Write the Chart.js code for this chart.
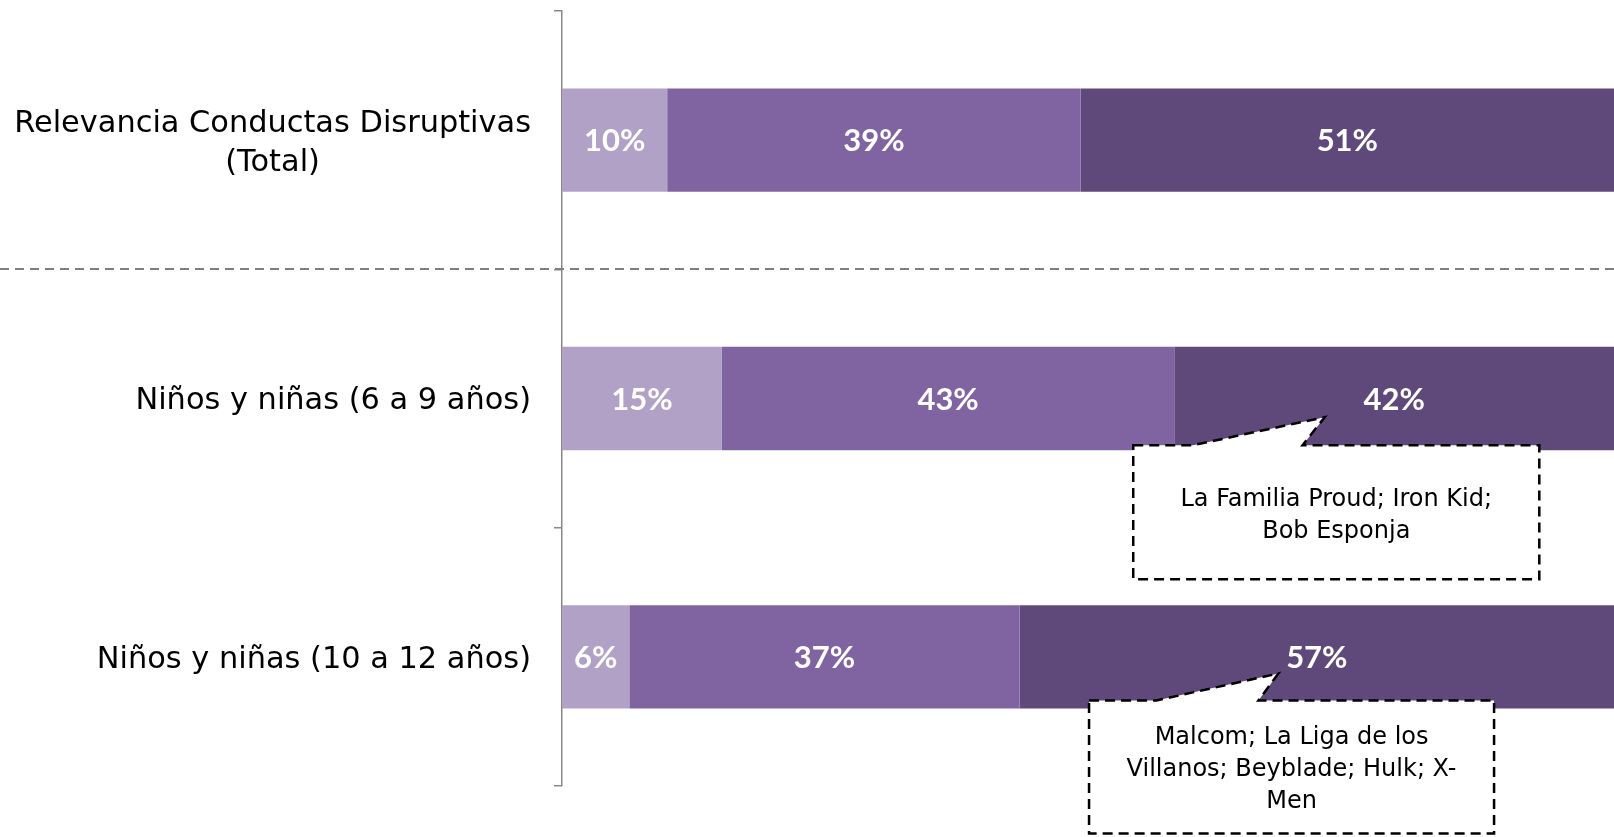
<!DOCTYPE html>
<html>
<head>
<meta charset="utf-8">
<script src="https://cdn.jsdelivr.net/npm/chart.js@4.4.1/dist/chart.umd.min.js"></script>
<style>
  html, body { margin: 0; padding: 0; background: #ffffff; }
  #wrap { width: 1614px; height: 837px; position: relative; }
</style>
</head>
<body>
<div id="wrap"><canvas id="c"></canvas></div>
<script>
// ---- Data ----
const categories = [
  ["Relevancia Conductas Disruptivas", "(Total)"],
  ["Niños y niñas (6 a 9 años)"],
  ["Niños y niñas (10 a 12 años)"]
];
const seriesNames = ["Baja", "Media", "Alta"];
const lowValues  = [10.0, 15.2, 6.4];
const midValues  = [39.3, 43.0, 37.1];
const highValues = [50.7, 41.8, 56.5];
const calloutCategories = [1, 2];
const calloutTexts = [
  ["La Familia Proud; Iron Kid;", "Bob Esponja"],
  ["Malcom; La Liga de los", "Villanos; Beyblade; Hulk; X-", "Men"]
];

// ---- Styles ----
const colors = ["#B2A1C7", "#8064A2", "#5F497A"];
const LABEL_FONT = "30.4px 'DejaVu Sans', sans-serif";
const VALUE_FONT = "bold 31px Lato, 'Open Sans', sans-serif";
const NOTE_FONT = "24px 'DejaVu Sans', sans-serif";
// callout geometry in x-axis value units (percent) and pixel offsets from bar bottom
const calloutGeom = [
  { left: 54.3, right: 92.9, baseL: 60.0, baseR: 70.4, tip: 72.5, top: -5, height: 134, tipDy: -33, textDy: 4 },
  { left: 50.1, right: 88.6, baseL: 56.5, baseR: 66.2, tip: 68.1, top: -8, height: 133, tipDy: -35, textDy: 3 }
];

const valueLabels = {
  id: 'valueLabels',
  afterDatasetsDraw(chart) {
    const ctx = chart.ctx;
    ctx.save();
    ctx.font = VALUE_FONT;
    ctx.fillStyle = '#ffffff';
    ctx.textAlign = 'center';
    ctx.textBaseline = 'middle';
    chart.data.datasets.forEach((ds, di) => {
      const meta = chart.getDatasetMeta(di);
      meta.data.forEach((el, i) => {
        const p = el.getCenterPoint();
        ctx.fillText(Math.round(ds.data[i]) + '%', p.x, p.y + 1);
      });
    });
    ctx.restore();
  }
};

const extras = {
  id: 'extras',
  beforeDatasetsDraw(chart) {
    const ctx = chart.ctx;
    const y = chart.scales.y;
    const sep = (y.getPixelForValue(0) + y.getPixelForValue(1)) / 2;
    ctx.save();
    ctx.strokeStyle = '#7F7F7F';
    ctx.lineWidth = 2;
    ctx.setLineDash([9, 6]);
    ctx.beginPath();
    ctx.moveTo(0, Math.round(sep));
    ctx.lineTo(chart.width, Math.round(sep));
    ctx.stroke();
    ctx.restore();
  },
  afterDraw(chart) {
    const ctx = chart.ctx;
    const ys = chart.scales.y, xs = chart.scales.x;
    // category labels
    ctx.save();
    ctx.font = LABEL_FONT;
    ctx.fillStyle = '#000000';
    ctx.textBaseline = 'middle';
    ctx.textAlign = 'center';
    const rightEdge = chart.chartArea.left - 31;
    const lh = 39;
    categories.forEach((lines, i) => {
      const cy = ys.getPixelForValue(i) + 3;
      const w = Math.max(...lines.map(l => ctx.measureText(l).width));
      const cx = rightEdge - w / 2;
      lines.forEach((l, k) => {
        ctx.fillText(l, cx, cy + (k - (lines.length - 1) / 2) * lh);
      });
    });
    ctx.restore();

    // callouts
    const meta = chart.getDatasetMeta(2);
    calloutCategories.forEach((ci, n) => {
      const g = calloutGeom[n];
      const el = meta.data[ci];
      const barBottom = el.y + el.height / 2;
      const top = barBottom + g.top;
      const bottom = top + g.height;
      const L = xs.getPixelForValue(g.left), R = xs.getPixelForValue(g.right);
      const bL = xs.getPixelForValue(g.baseL), bR = xs.getPixelForValue(g.baseR);
      const tx = xs.getPixelForValue(g.tip), ty = barBottom + g.tipDy;
      ctx.save();
      ctx.beginPath();
      ctx.moveTo(L, top);
      ctx.lineTo(bL, top);
      ctx.lineTo(tx, ty);
      ctx.lineTo(bR, top);
      ctx.lineTo(R, top);
      ctx.lineTo(R, bottom);
      ctx.lineTo(L, bottom);
      ctx.closePath();
      ctx.fillStyle = '#ffffff';
      ctx.fill();
      ctx.strokeStyle = '#000000';
      ctx.lineWidth = 2.5;
      ctx.setLineDash([10, 6]);
      ctx.stroke();
      ctx.setLineDash([]);
      ctx.font = NOTE_FONT;
      ctx.fillStyle = '#000000';
      ctx.textAlign = 'center';
      ctx.textBaseline = 'middle';
      const lines = calloutTexts[n];
      const cx = (L + R) / 2, cy = (top + bottom) / 2 + g.textDy;
      lines.forEach((l, k) => {
        ctx.fillText(l, cx, cy + (k - (lines.length - 1) / 2) * 32);
      });
      ctx.restore();
    });
  }
};

new Chart(document.getElementById('c'), {
  type: 'bar',
  data: {
    labels: categories.map(c => c.join(' ')),
    datasets: [
      { label: seriesNames[0], data: lowValues, backgroundColor: colors[0] },
      { label: seriesNames[1], data: midValues, backgroundColor: colors[1] },
      { label: seriesNames[2], data: highValues, backgroundColor: colors[2] }
    ]
  },
  options: {
    indexAxis: 'y',
    responsive: true,
    maintainAspectRatio: false,
    animation: false,
    layout: { padding: { top: 11, bottom: 51, left: 0, right: 0 } },
    datasets: { bar: { categoryPercentage: 0.8, barPercentage: 0.5, borderWidth: 0 } },
    plugins: { legend: { display: false }, tooltip: { enabled: false } },
    scales: {
      x: { stacked: true, min: 0, max: 100, display: false },
      y: {
        stacked: true,
        ticks: { display: false },
        grid: { offset: true, drawOnChartArea: false, drawTicks: true, tickLength: 8, color: '#888888', lineWidth: 1.5 },
        border: { display: true, color: '#888888', width: 1.5 },
        afterFit(scale) { scale.width = 562; }
      }
    }
  },
  plugins: [extras, valueLabels]
});
</script>
</body>
</html>
